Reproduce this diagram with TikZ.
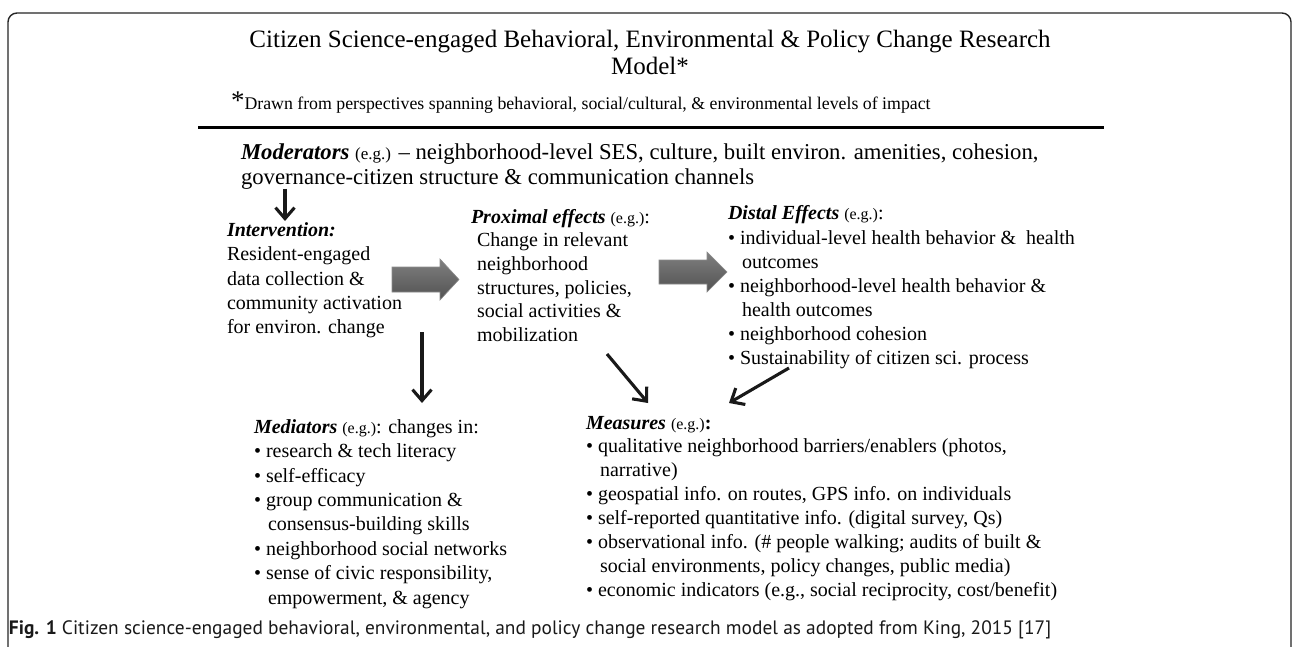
\documentclass[tikz,border=0pt]{standalone}
\usepackage{fontspec}
\setmainfont{Liberation Serif}
\newfontfamily\capfont{PT Sans}
\usetikzlibrary{arrows.meta}
\newcommand\egsize{\fontsize{16}{16}\selectfont}
\begin{document}
\begin{tikzpicture}[x=1pt,y=-1pt,
  txt/.style={inner sep=0pt, outer sep=0pt, anchor=base west, align=left},
  body/.style={txt, font=\fontsize{20}{24.3}\selectfont},
  thinarrow/.style={line width=3.1pt, black!90, -{Straight Barb[length=11pt,width=19pt,line width=3.1pt]}},
  blockarrow/.style={draw=black!45, line width=0.6pt, top color=black!50, middle color=black!85, bottom color=black!68},
]
\useasboundingbox (0,0) rectangle (1292,647);
\fill[white] (0,0) rectangle (1292,647);
% frame
\draw[line width=1.4pt, black!85, rounded corners=9pt] (8,720) -- (8,13) -- (1291,13) -- (1291,720);

% title (multi-line nodes are anchored on their last line's baseline)
\node[txt, anchor=base, align=center, font=\fontsize{25}{26.5}\selectfont] (title) at (650,74.5)
  {Citizen Science-engaged Behavioral, Environmental \& Policy Change Research\\Model*};
\node[txt, font=\fontsize{17.8}{20}\selectfont] (note) at (231,110)
  {{\fontsize{27}{27}\selectfont *}Drawn from perspectives spanning behavioral, social/cultural, \& environmental levels of impact};
\coordinate (ruleL) at (198,128);
\coordinate (ruleR) at (1104,128);
\draw[line width=3pt] (ruleL) -- (ruleR);

% moderators
\node[txt, font=\fontsize{22.7}{25}\selectfont] (mod) at (241,185)
  {{\bfseries\itshape Moderators} {\fontsize{17}{17}\selectfont (e.g.)} -- neighborhood-level SES, culture, built environ. amenities, cohesion,\\governance-citizen structure \& communication channels};

% intervention
\node[body, font=\fontsize{20}{24.25}\selectfont] (int) at (227,333.5)
  {{\bfseries\itshape Intervention:}\\Resident-engaged\\data collection \&\\community activation\\for environ. change};

% proximal
\node[body, font=\fontsize{20}{23.7}\selectfont] (prox) at (471,341.5)
  {{\bfseries\itshape Proximal effects} {\egsize (e.g.)}:\\\hspace{6pt}Change in relevant\\\hspace{6pt}neighborhood\\\hspace{6pt}structures, policies,\\\hspace{6pt}social activities \&\\\hspace{6pt}mobilization};

% distal
\node[body, font=\fontsize{20}{24.1}\selectfont] (dist) at (728,364.5)
  {{\bfseries\itshape Distal Effects} {\egsize (e.g.)}:\\\textbullet{} individual-level health behavior \&\ \ health\\\hspace{14pt}outcomes\\\textbullet{} neighborhood-level health behavior \&\\\hspace{14pt}health outcomes\\\textbullet{} neighborhood cohesion\\\textbullet{} Sustainability of citizen sci. process};

% mediators
\node[body, font=\fontsize{20}{24.35}\selectfont] (med) at (254,604)
  {{\bfseries\itshape Mediators} {\egsize (e.g.)}: changes in:\\\textbullet{} research \& tech literacy\\\textbullet{} self-efficacy\\\textbullet{} group communication \&\\\hspace{14pt}consensus-building skills\\\textbullet{} neighborhood social networks\\\textbullet{} sense of civic responsibility,\\\hspace{14pt}empowerment, \& agency};

% measures
\node[body, font=\fontsize{20}{23.9}\selectfont] (meas) at (586,596.3)
  {{\bfseries\itshape Measures} {\egsize (e.g.)}{\bfseries :}\\\textbullet{} qualitative neighborhood barriers/enablers (photos,\\\hspace{14pt}narrative)\\\textbullet{} geospatial info. on routes, GPS info. on individuals\\\textbullet{} self-reported quantitative info. (digital survey, Qs)\\\textbullet{} observational info. (\# people walking; audits of built \&\\\hspace{14pt}social environments, policy changes, public media)\\\textbullet{} economic indicators (e.g., social reciprocity, cost/benefit)};

% caption
\node[txt, font=\capfont\fontsize{19.4}{20}\selectfont, text=black!90] (cap) at (9,634)
  {{\bfseries Fig. 1} Citizen science-engaged behavioral, environmental, and policy change research model as adopted from King, 2015 [17]};

% block arrows
\shadedraw[blockarrow] (392,267) -- (440,267) -- (440,259) -- (459,279.5) -- (440,300) -- (440,292) -- (392,292) -- cycle;
\shadedraw[blockarrow] (659,260) -- (707,260) -- (707,252) -- (727,272) -- (707,292) -- (707,284) -- (659,284) -- cycle;

% thin arrows
\draw[thinarrow] ([xshift=44pt,yshift=-4pt]mod.base west) -- ([xshift=58pt,yshift=112.5pt]int.base west);
\draw[thinarrow] ([xshift=195pt,yshift=1.5pt]int.base west) -- ([xshift=168pt,yshift=201pt]med.base west);
\draw[thinarrow] ([xshift=136pt,yshift=-12.5pt]prox.base west) -- ([xshift=62pt,yshift=193.3pt]meas.base west);
\draw[thinarrow] ([xshift=61pt,yshift=-3.5pt]dist.base west) -- ([xshift=143pt,yshift=193.3pt]meas.base west);
\end{tikzpicture}
\end{document}
